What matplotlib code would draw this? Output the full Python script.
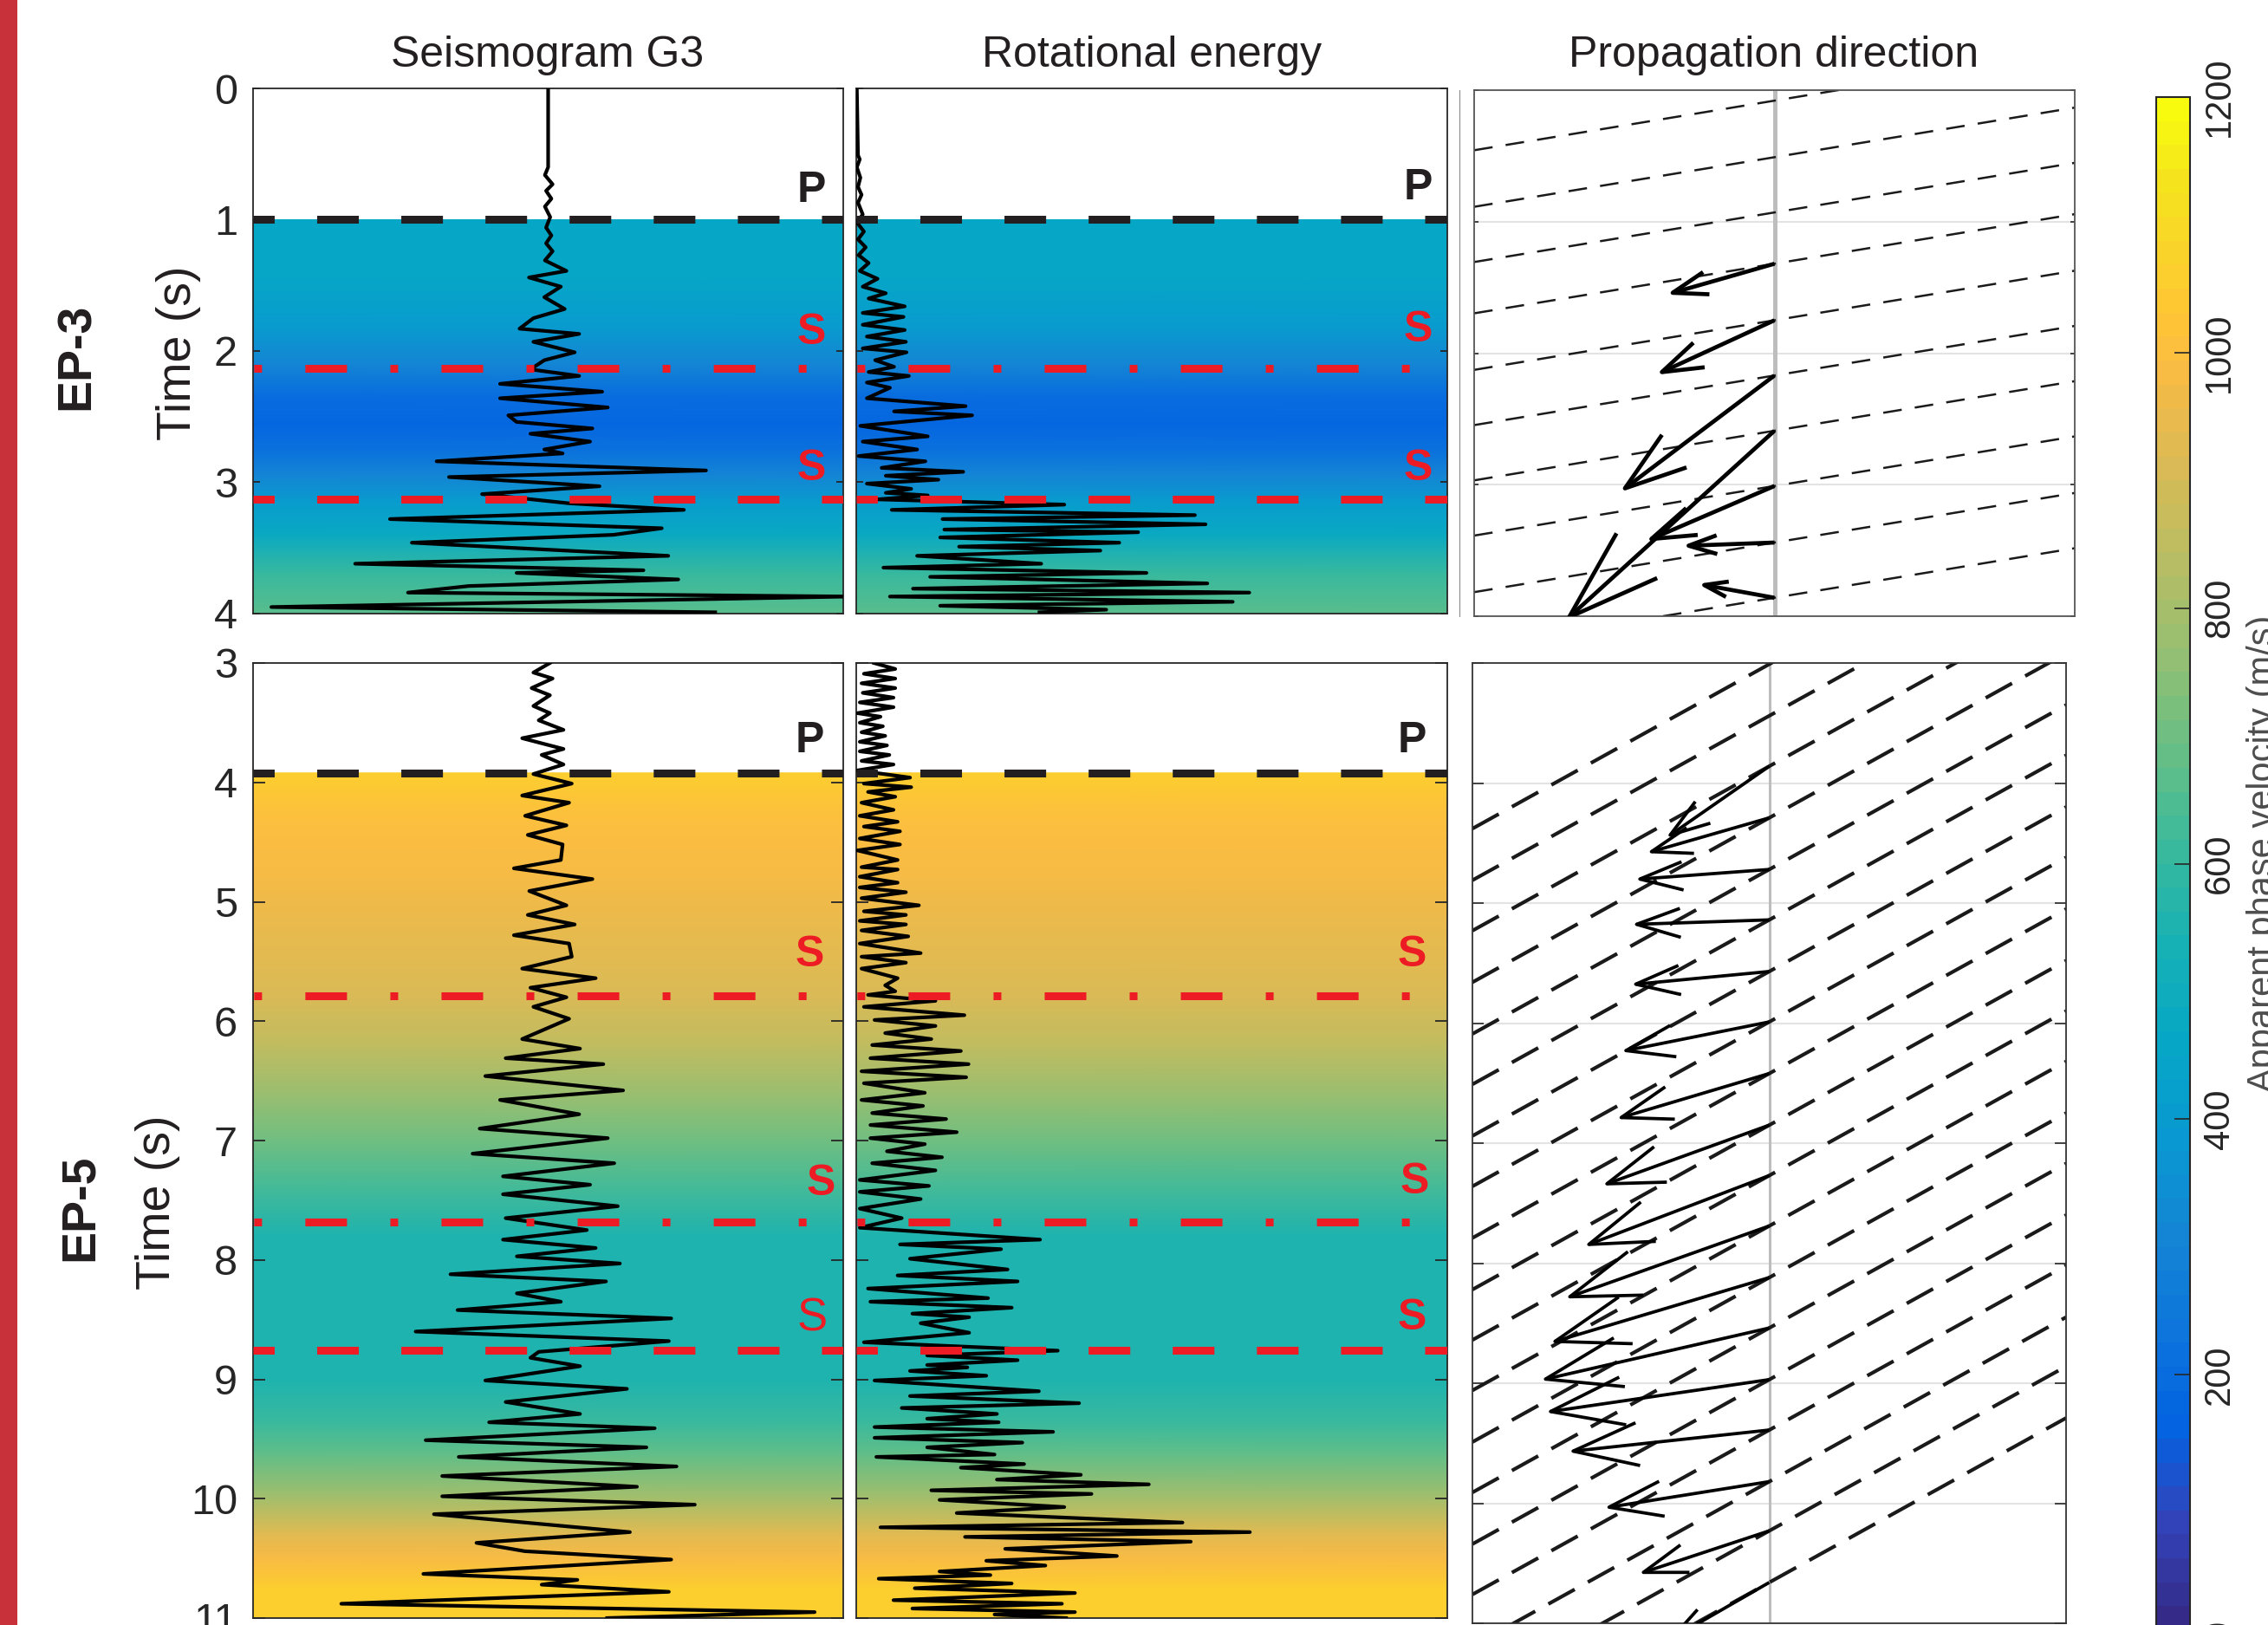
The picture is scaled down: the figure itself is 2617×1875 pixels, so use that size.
import numpy as np
import matplotlib
matplotlib.use("Agg")
import matplotlib.pyplot as plt
import matplotlib.transforms as mtransforms
from matplotlib.colors import LinearSegmentedColormap, Normalize
from matplotlib.cm import ScalarMappable
from matplotlib.patches import Rectangle
from matplotlib.lines import Line2D

plt.rcParams['font.family'] = ['Liberation Sans', 'DejaVu Sans']
plt.rcParams['lines.scale_dashes'] = False

# ---------------- data ----------------
col_titles = ["Seismogram G3", "Rotational energy", "Propagation direction"]
row_names = ["EP-3", "EP-5"]

# EP-3 (top row)
ep3_ticks = [0, 1, 2, 3, 4]
ep3_p = 1.0
ep3_s_dashdot = [2.13]
ep3_s_dashed = [3.13]
ep3_vel_t = [1.0, 1.4, 1.8, 2.1, 2.35, 2.55, 2.75, 2.95, 3.15, 3.4, 3.7, 4.0]
ep3_vel = [457, 450, 400, 305, 200, 171, 210, 305, 400, 475, 610, 667]

ep3_seis_t = [0.00, 0.60, 0.66, 0.73, 0.78, 0.84, 0.90, 0.98, 1.06, 1.12,
              1.18, 1.24, 1.31, 1.39, 1.44, 1.51, 1.59, 1.68, 1.75, 1.83,
              1.87, 1.93, 2.01, 2.07, 2.14, 2.19, 2.25, 2.31, 2.36, 2.43,
              2.49, 2.54, 2.59, 2.63, 2.69, 2.75, 2.78, 2.84, 2.91, 2.96,
              3.03, 3.09, 3.16, 3.21, 3.28, 3.35, 3.40, 3.46, 3.56, 3.62,
              3.67, 3.69, 3.74, 3.79, 3.84, 3.87, 3.95, 3.99]
ep3_seis_a = [0.0, 0.0, -0.011, 0.015, -0.007, 0.011, -0.011, 0.007, -0.007, 0.011,
              -0.007, 0.015, -0.011, 0.062, -0.065, 0.043, -0.013, 0.056, -0.050, -0.097,
              0.105, -0.050, 0.090, -0.013, -0.060, 0.105, -0.163, 0.183, -0.163, 0.202,
              -0.135, -0.107, 0.150, -0.060, 0.142, -0.013, 0.049, -0.378, 0.535, -0.336,
              0.174, -0.224, 0.071, 0.460, -0.536, 0.385, 0.221, -0.462, 0.407, -0.654,
              0.323, -0.107, 0.441, -0.269, -0.475, 1.02, -0.938, 0.566]

ep3_rot_t = [0.0, 0.51, 0.54, 0.60, 0.68, 0.75, 0.81, 0.87, 0.96, 1.02,
             1.09, 1.15, 1.21, 1.27, 1.33, 1.39, 1.45, 1.51, 1.56, 1.60,
             1.66, 1.71, 1.74, 1.80, 1.84, 1.89, 1.93, 1.98, 2.01, 2.07,
             2.12, 2.16, 2.19, 2.24, 2.28, 2.36, 2.42, 2.46, 2.49, 2.57,
             2.65, 2.69, 2.75, 2.80, 2.84, 2.89, 2.92, 2.95, 2.98, 3.01,
             3.05, 3.08, 3.10, 3.13, 3.17, 3.21, 3.25, 3.28, 3.32, 3.36,
             3.38, 3.42, 3.46, 3.49, 3.52, 3.56, 3.62, 3.65, 3.69, 3.72,
             3.77, 3.81, 3.84, 3.87, 3.91, 3.94, 3.97, 3.99]
ep3_rot_a = [0.001, 0.003, 0.006, 0.001, 0.007, 0.003, 0.009, 0.003, 0.011, 0.001,
             0.013, 0.003, 0.016, 0.004, 0.021, 0.006, 0.036, 0.011, 0.050, 0.021,
             0.082, 0.011, 0.080, 0.011, 0.082, 0.018, 0.084, 0.011, 0.085, 0.032,
             0.064, 0.021, 0.089, 0.018, 0.057, 0.018, 0.185, 0.064, 0.196, 0.007,
             0.121, 0.011, 0.103, 0.004, 0.117, 0.043, 0.181, 0.050, 0.139, 0.018,
             0.093, 0.050, 0.121, 0.036, 0.352, 0.060, 0.573, 0.146, 0.591, 0.149,
             0.477, 0.142, 0.445, 0.174, 0.413, 0.103, 0.313, 0.046, 0.491, 0.125,
             0.594, 0.096, 0.665, 0.057, 0.637, 0.142, 0.423, 0.310]

ep3_wave_t = [0.08, 0.51, 0.93, 1.32, 1.75, 2.17, 2.59, 3.01, 3.44, 3.86]
ep3_wave_slope = 0.377
ep3_arrow_t = [1.32, 1.75, 2.17, 2.59, 3.01, 3.44, 3.86]
ep3_arrow_u = [-0.339, -0.375, -0.498, -0.684, -0.410, -0.286, -0.234]
ep3_arrow_v = [0.221, 0.394, 0.858, 1.418, 0.403, 0.024, -0.097]

# EP-5 (bottom row)
ep5_ticks = [3, 4, 5, 6, 7, 8, 9, 10, 11]
ep5_p = 3.92
ep5_s_dashdot = [5.79, 7.68]
ep5_s_dashed = [8.76]
ep5_vel_t = [3.92, 4.3, 4.7, 5.2, 5.8, 6.2, 6.6, 7.0, 7.4, 7.8, 8.2, 9.0,
             9.35, 9.65, 10.0, 10.3, 10.5, 10.75, 11.0]
ep5_vel = [1057, 1010, 985, 952, 905, 857, 781, 695, 630, 560, 545, 545,
           610, 690, 800, 933, 990, 1050, 1057]

ep5_seis_t = [3.00, 3.08, 3.13, 3.21, 3.27, 3.36, 3.42, 3.48, 3.56, 3.63,
              3.72, 3.77, 3.85, 3.93, 4.01, 4.11, 4.17, 4.28, 4.36, 4.44,
              4.52, 4.65, 4.72, 4.81, 4.91, 5.03, 5.11, 5.19, 5.28, 5.35,
              5.46, 5.56, 5.64, 5.72, 5.80, 5.88, 5.98, 6.15, 6.23, 6.31,
              6.36, 6.46, 6.58, 6.66, 6.78, 6.90, 6.98, 7.11, 7.19, 7.30,
              7.37, 7.45, 7.55, 7.65, 7.75, 7.83, 7.90, 7.97, 8.03, 8.12,
              8.18, 8.28, 8.35, 8.42, 8.49, 8.60, 8.68, 8.77, 8.82, 8.89,
              9.01, 9.08, 9.19, 9.29, 9.36, 9.41, 9.51, 9.57, 9.65, 9.73,
              9.81, 9.90, 9.98, 10.05, 10.13, 10.28, 10.37, 10.44, 10.51, 10.63,
              10.68, 10.72, 10.78, 10.88, 10.95, 11.0]
ep5_seis_a = [0.006, -0.050, 0.015, -0.056, 0.006, -0.050, 0.006, -0.032, 0.052, -0.088,
              0.052, -0.022, 0.052, -0.050, 0.080, -0.088, 0.071, -0.078, 0.062, -0.069,
              0.049, 0.043, -0.116, 0.150, -0.064, 0.062, -0.069, 0.090, -0.116, 0.071,
              0.080, -0.088, 0.161, -0.060, 0.062, -0.050, 0.071, -0.088, 0.108, -0.144,
              0.187, -0.213, 0.254, -0.163, 0.105, -0.232, 0.202, -0.256, 0.224, -0.153,
              0.142, -0.153, 0.236, -0.144, 0.131, -0.153, 0.161, -0.106, 0.243, -0.331,
              0.196, -0.106, 0.043, -0.307, 0.417, -0.449, 0.409, -0.032, -0.060, 0.108,
              -0.213, 0.267, -0.144, 0.108, -0.200, 0.361, -0.415, 0.333, -0.303, 0.435,
              -0.359, 0.301, -0.359, 0.497, -0.387, 0.277, -0.243, -0.079, 0.417, -0.423,
              0.099, -0.022, 0.409, -0.701, 0.903, 0.2]

ep5_rot_t = [3.00, 3.05, 3.09, 3.13, 3.17, 3.21, 3.25, 3.29, 3.33, 3.37,
             3.42, 3.45, 3.50, 3.53, 3.58, 3.61, 3.66, 3.69, 3.74, 3.77,
             3.82, 3.85, 3.90, 3.96, 4.01, 4.04, 4.08, 4.12, 4.17, 4.23,
             4.28, 4.33, 4.37, 4.41, 4.47, 4.52, 4.57, 4.65, 4.71, 4.73,
             4.79, 4.84, 4.88, 4.92, 4.97, 5.03, 5.08, 5.11, 5.16, 5.19,
             5.24, 5.29, 5.35, 5.43, 5.46, 5.51, 5.56, 5.64, 5.70, 5.75,
             5.78, 5.83, 5.88, 5.95, 5.99, 6.04, 6.10, 6.15, 6.20, 6.25,
             6.31, 6.36, 6.42, 6.47, 6.52, 6.60, 6.66, 6.71, 6.77, 6.82,
             6.87, 6.93, 6.98, 7.03, 7.09, 7.14, 7.19, 7.25, 7.33, 7.38,
             7.43, 7.49, 7.57, 7.65, 7.73, 7.83, 7.87, 7.91, 7.99, 8.08,
             8.13, 8.18, 8.24, 8.32, 8.35, 8.40, 8.45, 8.48, 8.53, 8.61,
             8.69, 8.76, 8.80, 8.84, 8.88, 8.90, 8.93, 8.97, 9.01, 9.10,
             9.14, 9.20, 9.24, 9.29, 9.33, 9.36, 9.40, 9.44, 9.49, 9.53,
             9.57, 9.63, 9.65, 9.71, 9.74, 9.80, 9.84, 9.88, 9.93, 9.96,
             10.01, 10.07, 10.12, 10.20, 10.24, 10.28, 10.32, 10.36, 10.42, 10.48,
             10.52, 10.56, 10.61, 10.64, 10.67, 10.71, 10.75, 10.79, 10.85, 10.88,
             10.92, 10.95, 10.97, 11.0]
ep5_rot_a = [0.030, 0.066, 0.013, 0.066, 0.009, 0.066, 0.011, 0.063, 0.006, 0.063,
             0.002, 0.041, 0.006, 0.045, 0.009, 0.049, 0.006, 0.052, 0.006, 0.056,
             0.009, 0.063, 0.002, 0.091, 0.013, 0.093, 0.020, 0.066, 0.009, 0.063,
             0.006, 0.070, 0.013, 0.074, 0.006, 0.074, 0.002, 0.070, 0.009, 0.070,
             0.006, 0.070, 0.006, 0.084, 0.009, 0.106, 0.013, 0.084, 0.006, 0.084,
             0.009, 0.088, 0.006, 0.109, 0.009, 0.084, 0.009, 0.070, 0.049, 0.066,
             0.020, 0.134, 0.013, 0.183, 0.031, 0.134, 0.049, 0.127, 0.027, 0.177,
             0.024, 0.190, 0.009, 0.186, 0.013, 0.116, 0.009, 0.113, 0.027, 0.152,
             0.024, 0.170, 0.024, 0.116, 0.052, 0.145, 0.027, 0.134, 0.006, 0.123,
             0.006, 0.109, 0.006, 0.077, 0.006, 0.311, 0.074, 0.245, 0.091, 0.256,
             0.070, 0.273, 0.020, 0.223, 0.024, 0.263, 0.095, 0.191, 0.109, 0.191,
             0.013, 0.341, 0.120, 0.273, 0.120, 0.188, 0.091, 0.220, 0.031, 0.309,
             0.091, 0.377, 0.077, 0.238, 0.120, 0.241, 0.031, 0.333, 0.031, 0.281,
             0.120, 0.234, 0.034, 0.284, 0.177, 0.380, 0.238, 0.495, 0.127, 0.398,
             0.141, 0.352, 0.170, 0.552, 0.041, 0.666, 0.184, 0.566, 0.252, 0.441,
             0.220, 0.320, 0.141, 0.227, 0.038, 0.263, 0.099, 0.370, 0.063, 0.348,
             0.095, 0.370, 0.234, 0.355]

ep5_wave_t = [3.01, 3.44, 3.86, 4.29, 4.72, 5.14, 5.57, 5.99, 6.42, 6.85,
              7.27, 7.69, 8.12, 8.54, 8.97, 9.39, 9.82, 10.23, 10.66]
ep5_wave_slope = 1.37
ep5_arrow_t = [3.86, 4.29, 4.72, 5.14, 5.57, 5.99, 6.42, 6.85, 7.27, 7.69,
               8.12, 8.54, 8.97, 9.39, 9.82, 10.23, 10.66]
ep5_arrow_u = [-0.334, -0.397, -0.436, -0.447, -0.450, -0.483, -0.499, -0.547, -0.608, -0.672,
               -0.722, -0.754, -0.737, -0.661, -0.540, -0.424, -0.330]
ep5_arrow_v = [0.574, 0.282, 0.080, 0.037, 0.106, 0.239, 0.367, 0.489, 0.574, 0.590,
               0.532, 0.426, 0.266, 0.176, 0.213, 0.346, 0.470]

cbar_ticks = [0, 200, 400, 600, 800, 1000, 1200]
cbar_label = "Apparent phase velocity (m/s)"

# parula-like colormap (MATLAB)
parula_anchors = [
    (0 / 63, (0.2081, 0.1663, 0.5292)), (4 / 63, (0.1959, 0.2645, 0.7279)),
    (8 / 63, (0.0117, 0.3875, 0.8820)), (12 / 63, (0.0498, 0.4586, 0.8641)),
    (16 / 63, (0.0793, 0.5200, 0.8312)), (20 / 63, (0.0343, 0.5966, 0.8199)),
    (24 / 63, (0.0228, 0.6535, 0.7768)), (28 / 63, (0.0843, 0.6928, 0.7062)),
    (32 / 63, (0.2178, 0.7250, 0.6193)), (36 / 63, (0.3953, 0.7459, 0.5244)),
    (40 / 63, (0.5709, 0.7485, 0.4494)), (44 / 63, (0.7184, 0.7411, 0.3905)),
    (48 / 63, (0.8507, 0.7299, 0.3360)), (52 / 63, (0.9739, 0.7314, 0.2666)),
    (54 / 63, (0.9990, 0.7653, 0.2164)), (56 / 63, (0.9880, 0.8066, 0.1794)),
    (60 / 63, (0.9589, 0.8949, 0.1132)), (63 / 63, (0.9763, 0.9831, 0.0538)),
]
cmap = LinearSegmentedColormap.from_list("parula", parula_anchors, N=64)
norm = Normalize(0, 1200)

# ---------------- styling ----------------
W, H = 2617, 1875
DARK = '#262626'
RED = '#ed1c24'
P_DASH = (17, (34.6, 35.3))
S_DASHED = (17, (34.6, 35.3))
S_DASHDOT = (70, (34.6, 36, 6.5, 36))
TRACE_LW = 3.0

fig = plt.figure(figsize=(W / 100, H / 100), dpi=100)


def add_ax(x0, y0, x1, y1):
    return fig.add_axes([x0 / W, 1 - y1 / H, (x1 - x0) / W, (y1 - y0) / H])


def style_time_axis(ax, ticks, tlen, labels):
    ax.set_ylim(ticks[-1], ticks[0])
    ax.set_yticks(ticks)
    ax.set_xticks([])
    ax.tick_params(axis='y', direction='in', left=True, right=True, length=tlen,
                   width=1.3, colors=DARK, labelsize=35, pad=13, labelleft=labels)
    for s in ax.spines.values():
        s.set_color(DARK)
        s.set_linewidth(1.3)


def background(ax, x0, x1, vt, vel):
    X, T = np.meshgrid([x0, x1], vt)
    V = np.column_stack([vel, vel])
    ax.pcolormesh(X, T, V, shading='gouraud', cmap=cmap, norm=norm, zorder=0)


def trace(ax, a, t):
    ax.plot(a, t, color='k', lw=TRACE_LW, zorder=3, solid_joinstyle='round')


def phase_lines(ax, p, dd, ds):
    ax.axhline(p, color='#231f20', lw=6.5, linestyle=P_DASH, zorder=4)
    for t in dd:
        ax.axhline(t, color=RED, lw=6.5, linestyle=S_DASHDOT, zorder=4)
    for t in ds:
        ax.axhline(t, color=RED, lw=6.5, linestyle=S_DASHED, zorder=4)


def label(ax, x, t, s, color, bold=True, size=36):
    tr = mtransforms.blended_transform_factory(ax.transAxes, ax.transData)
    ax.text(x, t, s, transform=tr, ha='center', va='center', fontsize=size,
            fontweight='bold' if bold else 'normal', color=color, zorder=6)


def quiver(ax, ts, us, vs, lw):
    alpha, beta = 0.33, 0.33
    inv = ax.transData.inverted()
    for t0, u, v in zip(ts, us, vs):
        p0 = ax.transData.transform((0.0, t0))
        p1 = ax.transData.transform((u, t0 + v))
        d = p1 - p0
        perp = np.array([-d[1], d[0]])
        b1 = p1 - alpha * d + alpha * beta * perp
        b2 = p1 - alpha * d - alpha * beta * perp
        shaft = inv.transform(np.array([p0, p1]))
        head = inv.transform(np.array([b1, p1, b2]))
        ax.plot(shaft[:, 0], shaft[:, 1], color='k', lw=lw, zorder=5, solid_capstyle='butt')
        ax.plot(head[:, 0], head[:, 1], color='k', lw=lw, zorder=5, solid_capstyle='butt')


def prop_panel(ax, ticks, tlen, wave_t, slope, at, au, av, wave_lw, wave_dash, arr_lw, cl_lw, spine_c):
    ax.set_xlim(-1, 1)
    ax.set_ylim(ticks[-1], ticks[0])
    ax.set_yticks(ticks)
    ax.set_xticks([])
    ax.tick_params(axis='y', direction='in', left=True, right=True, length=tlen,
                   width=1.2, colors=DARK, labelleft=False)
    ax.grid(True, axis='y', color='#e3e3e3', lw=1.5)
    ax.set_axisbelow(True)
    for s in ax.spines.values():
        s.set_color(spine_c)
        s.set_linewidth(1.3)
    ax.axvline(0, color='#bdbdbd', lw=cl_lw, zorder=1)
    for t in wave_t:
        ax.plot([-1, 1], [t + slope, t - slope], color='#1a1a1a', lw=wave_lw,
                linestyle=wave_dash, zorder=2)
    quiver(ax, at, au, av, arr_lw)


# red strip on the left
fig.add_artist(Rectangle((0, 0), 20 / W, 1, transform=fig.transFigure,
                         facecolor='#c8313a', edgecolor='none'))

# ---------------- top row: EP-3 ----------------
ax = add_ax(292, 102, 973, 708)
ax.set_xlim(-1, 1)
style_time_axis(ax, ep3_ticks, 5.8, True)
background(ax, -1, 1, ep3_vel_t, ep3_vel)
trace(ax, ep3_seis_a, ep3_seis_t)
phase_lines(ax, ep3_p, ep3_s_dashdot, ep3_s_dashed)
label(ax, 0.946, 0.78, 'P', '#231f20')
label(ax, 0.946, 1.86, 'S', RED)
label(ax, 0.946, 2.90, 'S', RED)

ax = add_ax(988, 102, 1670, 708)
ax.set_xlim(0, 1)
style_time_axis(ax, ep3_ticks, 5.8, False)
background(ax, 0, 1, ep3_vel_t, ep3_vel)
trace(ax, ep3_rot_a, ep3_rot_t)
phase_lines(ax, ep3_p, ep3_s_dashdot, ep3_s_dashed)
label(ax, 0.95, 0.76, 'P', '#231f20')
label(ax, 0.95, 1.84, 'S', RED)
label(ax, 0.95, 2.90, 'S', RED)

ax = add_ax(1701, 104, 2394, 711)
prop_panel(ax, ep3_ticks, 3.6, ep3_wave_t, ep3_wave_slope, ep3_arrow_t, ep3_arrow_u,
           ep3_arrow_v, 1.8, (0, (15.5, 11)), 3.4, 3.6, '#555555')
fig.add_artist(Line2D([1684 / W, 1684 / W], [1 - 104 / H, 1 - 711 / H],
                      color='#8c8c8c', lw=0.8))

# ---------------- bottom row: EP-5 ----------------
ax = add_ax(292, 765, 973, 1867)
ax.set_xlim(-1, 1)
style_time_axis(ax, ep5_ticks, 10, True)
background(ax, -1, 1, ep5_vel_t, ep5_vel)
trace(ax, ep5_seis_a, ep5_seis_t)
phase_lines(ax, ep5_p, ep5_s_dashdot, ep5_s_dashed)
label(ax, 0.943, 3.65, 'P', '#231f20')
label(ax, 0.943, 5.45, 'S', RED)
label(ax, 0.962, 7.36, 'S', RED)
label(ax, 0.947, 8.49, 'S', RED, bold=False, size=38)

ax = add_ax(988, 765, 1670, 1867)
ax.set_xlim(0, 1)
style_time_axis(ax, ep5_ticks, 10, False)
background(ax, 0, 1, ep5_vel_t, ep5_vel)
trace(ax, ep5_rot_a, ep5_rot_t)
phase_lines(ax, ep5_p, ep5_s_dashdot, ep5_s_dashed)
label(ax, 0.94, 3.65, 'P', '#231f20')
label(ax, 0.94, 5.45, 'S', RED)
label(ax, 0.945, 7.35, 'S', RED)
label(ax, 0.94, 8.49, 'S', RED)

ax = add_ax(1699, 765, 2384, 1873)
prop_panel(ax, ep5_ticks, 9.5, ep5_wave_t, ep5_wave_slope, ep5_arrow_t, ep5_arrow_u,
           ep5_arrow_v, 3.0, (0, (25, 12.5)), 2.7, 2.2, '#333333')

# ---------------- colorbar ----------------
cax = add_ax(2488, 112, 2527, 1881)
sm = ScalarMappable(norm=norm, cmap=cmap)
cb = fig.colorbar(sm, cax=cax, ticks=cbar_ticks)
cb.outline.set_linewidth(1.5)
cb.outline.set_edgecolor(DARK)
cax.tick_params(direction='in', length=13, width=1.2, colors=DARK, labelsize=30, pad=10)
cax.set_yticklabels([str(v) for v in cbar_ticks], rotation=90, va='center', ha='left')
fig.text(2592 / W, 1 - 985 / H, cbar_label, rotation=90, ha='left', va='center',
         fontsize=30, color='#4d4d4d')

# ---------------- titles and row labels ----------------
for xc, title in zip([632, 1329, 2047], col_titles):
    fig.text(xc / W, 1 - 77 / H, title, ha='center', va='baseline', fontsize=36, color='#231f20')

fig.text(89 / W, 1 - 411 / H, row_names[0], rotation=90, ha='center', va='center',
         fontsize=40, fontweight='bold', color='#231f20')
fig.text(206 / W, 1 - 407 / H, "Time (s)", rotation=90, ha='center', va='center',
         fontsize=40, color='#231f20')
fig.text(93 / W, 1 - 1393 / H, row_names[1], rotation=90, ha='center', va='center',
         fontsize=40, fontweight='bold', color='#231f20')
fig.text(182 / W, 1 - 1387 / H, "Time (s)", rotation=90, ha='center', va='center',
         fontsize=40, color='#231f20')

fig.savefig("out.png", dpi=100)
